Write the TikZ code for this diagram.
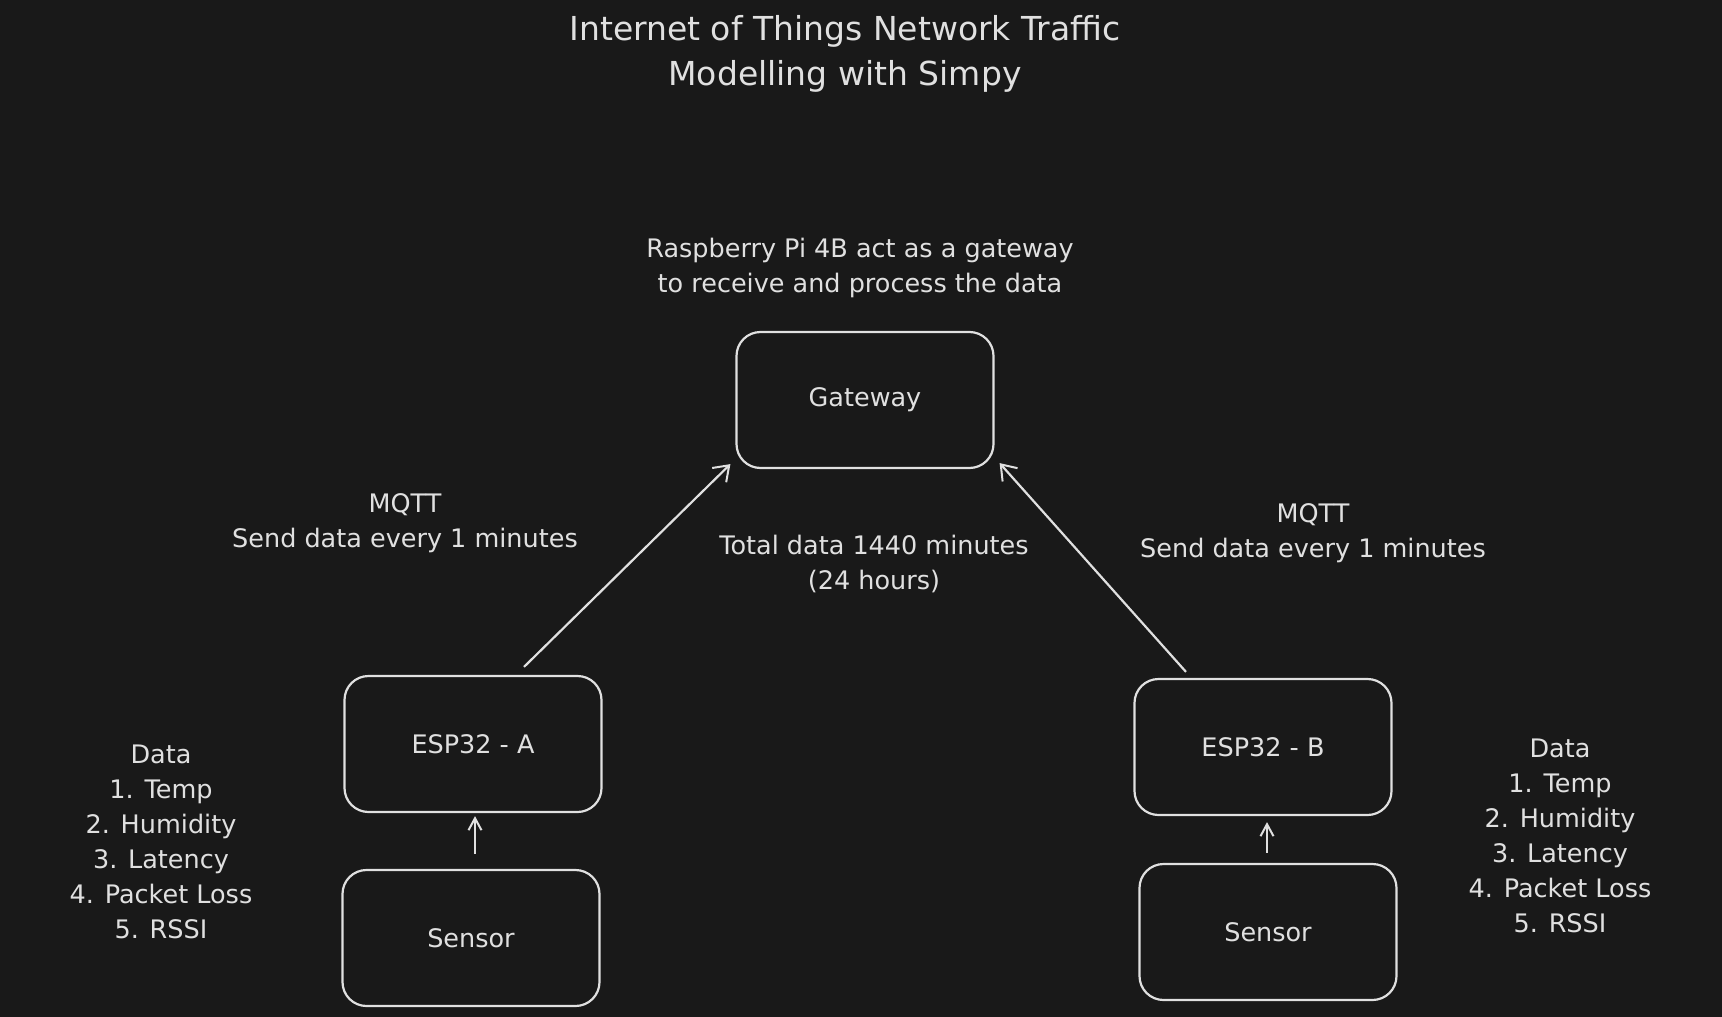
\documentclass[tikz,border=0pt]{standalone}
\usepackage{fontspec}
\setmainfont{DejaVu Sans}
\usepackage{tikz}
\usetikzlibrary{shapes.geometric, arrows.meta}
\definecolor{bgcol}{HTML}{191919}
\definecolor{inkcol}{HTML}{E0E0E0}

\begin{document}
\begin{tikzpicture}[x=1pt, y=-1pt,
        every node/.style={text=inkcol, font=\fontsize{25.5}{35}\selectfont, align=center},
        boxnode/.style={draw=inkcol, line width=2.2pt, rounded corners=24pt, minimum width=257pt, minimum height=136pt},
        link/.style={draw=inkcol, line width=2.2pt, -{Straight Barb[length=14pt, width=20pt, line width=2pt]}},
        shortlink/.style={draw=inkcol, line width=2.2pt, -{Straight Barb[length=12pt, width=13pt, line width=2pt]}}]
        \fill[bgcol] (0,0) rectangle (1722,1017);
        \useasboundingbox (0,0) rectangle (1722,1017);

        \node[font=\fontsize{33}{45}\selectfont] (title) at (845,54) {Internet of Things Network Traffic\\ Modelling with Simpy};

        \node[boxnode] (gateway) at (865,400) {Gateway};
        \node (gw_note) at (860,268) {Raspberry Pi 4B act as a gateway\\ to receive and process the data};

        \node[boxnode] (esp_a) at (473,744) {ESP32 - A};
        \node[boxnode] (sensor_a) at (471,938) {Sensor};
        \node[boxnode] (esp_b) at (1263,747) {ESP32 - B};
        \node[boxnode] (sensor_b) at (1268,932) {Sensor};

        \node (mqtt_a) at (405,523) {MQTT\\ Send data every 1 minutes};
        \node (mqtt_b) at (1313,533) {MQTT\\ Send data every 1 minutes};
        \node (total) at (874,564) {Total data 1440 minutes\\ (24 hours)};

        \node (data_a) at (161,842) {Data\\ 1. Temp\\ 2. Humidity\\ 3. Latency\\ 4. Packet Loss\\ 5. RSSI};
        \node (data_b) at (1560,836) {Data\\ 1. Temp\\ 2. Humidity\\ 3. Latency\\ 4. Packet Loss\\ 5. RSSI};

        \draw[link] ([xshift=51pt, yshift=8pt]esp_a.north) -- ([xshift=-5pt, yshift=5pt]gateway.south west);
        \draw[link] ([xshift=-77pt, yshift=6pt]esp_b.north) -- ([xshift=5pt, yshift=6pt]gateway.south east);
        \draw[shortlink] ([xshift=4pt, yshift=15pt]sensor_a.north) -- ([xshift=2pt, yshift=-3pt]esp_a.south);
        \draw[shortlink] ([xshift=-1pt, yshift=10pt]sensor_b.north) -- ([xshift=4pt, yshift=-6pt]esp_b.south);
    \end{tikzpicture}
\end{document}
